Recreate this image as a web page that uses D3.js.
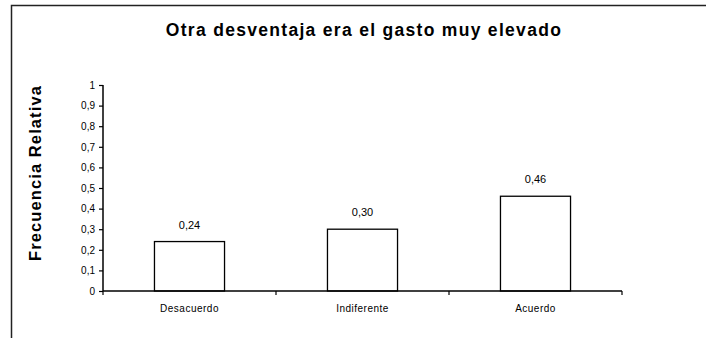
<!DOCTYPE html>
<html><head><meta charset="utf-8">
<script src="https://cdn.jsdelivr.net/npm/d3@7"></script>
<style>body{margin:0;background:#fff}svg{display:block}</style>
</head><body>
<svg id="c" width="706" height="338"></svg>
<script>
const categories = ["Desacuerdo", "Indiferente", "Acuerdo"];
const values = [0.24, 0.30, 0.46];
const valueLabels = ["0,24", "0,30", "0,46"];
const yTicks = [0, 0.1, 0.2, 0.3, 0.4, 0.5, 0.6, 0.7, 0.8, 0.9, 1];
const title = "Otra desventaja era el gasto muy elevado";
const yTitle = "Frecuencia Relativa";

const svg = d3.select("#c");
const font = "Arial, 'Liberation Sans', sans-serif";

// frame
svg.append("path").attr("d", "M11.5,338 V5.5 H706")
  .attr("fill", "none").attr("stroke", "#222").attr("stroke-width", 1.5);

const x0 = 103, x1 = 622, yTop = 85, yBot = 291;
const x = d3.scaleBand().domain(categories).range([x0, x1]).paddingInner(0.595).paddingOuter(0.2975);
const y = d3.scaleLinear().domain([0, 1]).range([yBot, yTop]);
const xb = d3.scaleBand().domain(categories).range([x0, x1]);

// bars
svg.selectAll("rect.bar").data(values).join("rect")
  .attr("x", (d, i) => x(categories[i]))
  .attr("y", d => y(d))
  .attr("width", x.bandwidth())
  .attr("height", d => yBot - y(d))
  .attr("fill", "#fff").attr("stroke", "#000").attr("stroke-width", 1.3);

svg.selectAll("text.val").data(values).join("text")
  .attr("x", (d, i) => x(categories[i]) + x.bandwidth() / 2)
  .attr("y", d => y(d) - 13)
  .attr("text-anchor", "middle")
  .attr("font-family", font).attr("font-size", 11).attr("fill", "#000")
  .text((d, i) => valueLabels[i]);

// y axis
const ya = svg.append("g").attr("transform", `translate(${x0},0)`)
  .call(d3.axisLeft(y).tickValues(yTicks).tickSize(4).tickPadding(4)
    .tickFormat(d => d3.format(".1~f")(d).replace(".", ",")));
ya.select(".domain").attr("stroke", "#000").attr("stroke-width", 1.5).attr("d", `M0,${yTop}V${yBot}`);
ya.selectAll(".tick line").attr("stroke", "#000").attr("stroke-width", 1.2);
ya.selectAll(".tick text").attr("font-family", font).attr("font-size", 10).attr("fill", "#000");

// x axis
const xa = svg.append("g").attr("transform", `translate(0,${yBot})`)
  .call(d3.axisBottom(xb).tickSize(0).tickPadding(14));
xa.select(".domain").attr("stroke", "#000").attr("stroke-width", 1.5).attr("d", `M${x0},0H${x1}`);
xa.selectAll(".tick text").attr("font-family", font).attr("font-size", 10)
  .attr("letter-spacing", 0.5).attr("fill", "#000");
const edges = [x0, ...categories.map(c => xb(c) + xb.bandwidth())];
xa.selectAll("line.edge").data(edges).join("line")
  .attr("x1", d => d).attr("x2", d => d).attr("y1", 0).attr("y2", 4)
  .attr("stroke", "#000").attr("stroke-width", 1.2);

// title
svg.append("text").attr("x", 364).attr("y", 36).attr("text-anchor", "middle")
  .attr("font-family", font).attr("font-weight", "bold").attr("font-size", 17.5)
  .attr("letter-spacing", 1.3).text(title);

svg.append("text").attr("transform", "translate(41,173) rotate(-90)")
  .attr("text-anchor", "middle")
  .attr("font-family", font).attr("font-weight", "bold").attr("font-size", 16.5)
  .attr("letter-spacing", 1.1).text(yTitle);
</script>
</body></html>
